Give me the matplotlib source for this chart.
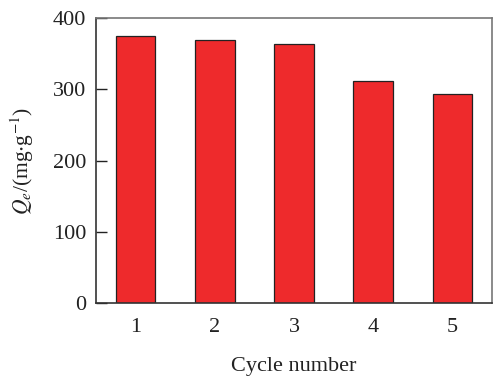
import matplotlib
matplotlib.use("Agg")
import matplotlib.pyplot as plt

# data
cycles = [1, 2, 3, 4, 5]
qe_values = [375, 369, 364, 312, 293]
y_ticks = [0, 100, 200, 300, 400]

plt.rcParams['font.family'] = ['Liberation Serif', 'DejaVu Serif']
plt.rcParams['mathtext.fontset'] = 'stix'

fig = plt.figure(figsize=(5.0, 3.77), dpi=100)
ax = fig.add_axes([0.192, 0.196, 0.792, 0.756])

ax.bar(cycles, qe_values, width=0.5, color='#ee2a2c',
       edgecolor='#222222', linewidth=0.9)

ax.set_xlim(0.5, 5.5)
ax.set_ylim(0, 400)
ax.set_xticks(cycles)
ax.set_yticks(y_ticks)
ax.tick_params(axis='y', direction='in', length=8, width=1.0,
               labelsize=16, pad=7, colors='#222222')
ax.tick_params(axis='x', length=0, labelsize=16, pad=11, colors='#222222')

for side in ['left', 'bottom']:
    ax.spines[side].set_color('#333333')
    ax.spines[side].set_linewidth(1.2)
for side in ['top', 'right']:
    ax.spines[side].set_color('#777777')
    ax.spines[side].set_linewidth(1.2)

ax.set_xlabel('Cycle number', fontsize=16, labelpad=14, color='#222222')
ax.set_ylabel(r'$Q_e$/(mg$\cdot$g$^{-1}$)', fontsize=15.5, labelpad=12,
              color='#222222')

fig.savefig('out.png', dpi=100)
